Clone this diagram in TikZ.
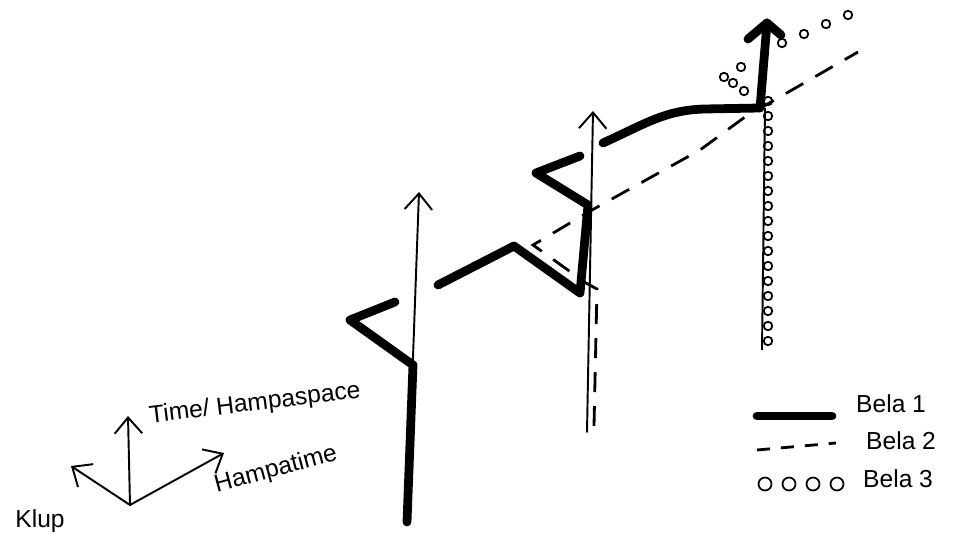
\documentclass[tikz,border=0pt]{standalone}
\usepackage{fontspec}
\setmainfont{Liberation Sans}
\usetikzlibrary{arrows.meta}
\usetikzlibrary{positioning}

\begin{document}
\begin{tikzpicture}[x=0.02cm, y=-0.02cm,
  timeaxis/.style={line width=1.1pt, line cap=round, -{Straight Barb[length=0.32cm, width=0.55cm, line width=1.1pt]}},
  bela1/.style={line width=5pt, line cap=round, line join=round},
  bela2/.style={line width=1.6pt, dash pattern=on 0.4cm off 0.28cm},
  bela3/.style={circle, draw=black, line width=1pt, inner sep=0pt, minimum size=0.17cm},
  hand/.style={font=\fontsize{14}{16}\selectfont}]

        % Canvas
        \useasboundingbox (0,0) rectangle (961,540);

        % Little frame of axes at the bottom left
        \coordinate (o) at (130,505);
        \coordinate (up) at (128,416);
        \coordinate (right) at (224,453);
        \coordinate (left) at (71,466);
        \draw[timeaxis] (o) -- (up);
        \draw[timeaxis] (o) -- (right);
        \draw[timeaxis] (o) -- (left);
        \node[hand, rotate=7] (ltime) at (255,404) {Time/ Hampaspace};
        \node[hand, rotate=15] (lhampa) at (276,470) {Hampatime};
        \node[hand] (lklup) at (40,521) {Klup};

        % Three time lines
        \coordinate (t1a) at (407,522);  \coordinate (t1b) at (419,192);
        \coordinate (t2a) at (587,432);  \coordinate (t2b) at (593,111);
        \coordinate (t3a) at (762,350);  \coordinate (t3b) at (765,108);
        \draw[timeaxis] (t1a) -- (t1b);
        \draw[timeaxis] (t2a) -- (t2b);
        \draw[line width=1.1pt] (t3a) -- (t3b);

        % Bela 2 (dashed)
        \draw[bela2] (594,426) -- (597,289) -- (586,283) -- (533,245)
                     -- (592,210) -- (700,150) -- (745,117) -- (858,52);

        % Bela 1 (thick)
        \draw[bela1] (t1a) -- (413,365) -- (350,320) -- (395,302);
        \draw[bela1] (438,285) -- (514,246) -- (580,293) -- (588,205)
                     -- (536,173) -- (580,156);
        \coordinate (tip) at (767,23);
        \draw[bela1] (603,143) .. controls (645,124) and (665,110) .. (705,109)
                     -- (760,108) -- (tip);
        \draw[bela1] (748,39) -- (tip) -- (781,35);

        % Bela 3 (circles)
        \foreach \k in {0,...,16} {
          \node[bela3] (c\k) at (768,{101+15*\k}) {};
        }
        \foreach \p [count=\n] in {(741,67),(724,77),(733,83),(744,91),(782,43),(804,34),(826,24),(848,15)} {
          \node[bela3] (s\n) at \p {};
        }

        % Legend
        \coordinate (k1a) at (757,416); \coordinate (k1b) at (832,416);
        \coordinate (k2a) at (757,450); \coordinate (k2b) at (836,443);
        \draw[bela1] (k1a) -- (k1b);
        \draw[line width=1.6pt, dash pattern=on 0.26cm off 0.22cm] (k2a) -- (k2b);
        \foreach \i in {0,...,3} {
          \node[bela3, minimum size=0.26cm] (k3\i) at ({765+24*\i},484) {};
        }
        \node[hand, anchor=west] (lb1) at (850,404) {Bela 1};
        \node[hand, anchor=west] (lb2) at (860,441) {Bela 2};
        \node[hand, anchor=west] (lb3) at (857,479) {Bela 3};

      \end{tikzpicture}
\end{document}
